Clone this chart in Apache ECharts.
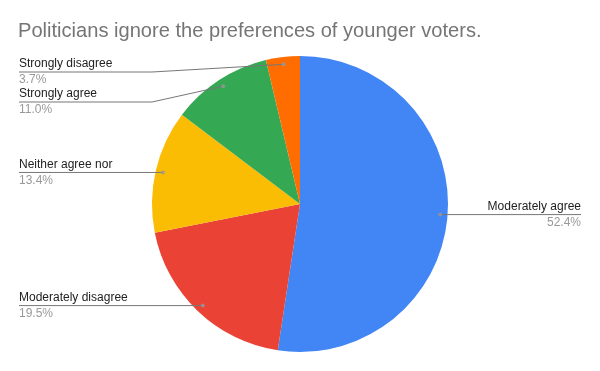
<!DOCTYPE html>
<html>
<head>
<meta charset="utf-8">
<script src="https://cdn.jsdelivr.net/npm/echarts@6/dist/echarts.min.js"></script>
<style>html,body{margin:0;padding:0;background:#fff}#c{width:600px;height:371px}</style>
</head>
<body>
<div id="c"></div>
<script>
const titleText = 'Politicians ignore the preferences of younger voters.';
const categories = ['Moderately agree', 'Moderately disagree', 'Neither agree nor', 'Strongly agree', 'Strongly disagree'];
const values = [52.4, 19.5, 13.4, 11.0, 3.7];
const colors = ['#4285F4', '#EA4335', '#FBBC04', '#34A853', '#FF6D01'];
// labels stacked against the top edge (laid out in their own group)
const topLabelGroup = ['Strongly agree', 'Strongly disagree'];

const FONT = 'Arial, "Liberation Sans", sans-serif';
const CX = 300, CY = 204;
const R = 148;
const DOT_R = 0.95;
const LABEL_TOP = 57;

const total = values.reduce((a, b) => a + b, 0);
const pieData = categories.map((c, i) => ({ name: c, value: values[i], itemStyle: { color: colors[i] } }));
const overlayData = inTop => categories.map((c, i) => ({
  name: c, value: values[i],
  label: { show: topLabelGroup.includes(c) === inTop },
  labelLine: { show: topLabelGroup.includes(c) === inTop }
}));
let cum = 0;
const dotData = values.map(v => { const mid = (cum + v / 2) / total * 100; cum += v; return [DOT_R, mid]; });

const labelCfg = {
  show: true, position: 'outer', alignTo: 'edge', edgeDistance: 19, bleedMargin: 0,
  distanceToLabelLine: 0,
  formatter: p => '{n|' + p.name + '}\n{p|' + p.value.toFixed(1) + '%}',
  rich: {
    n: { fontFamily: FONT, fontSize: 12, color: '#222', lineHeight: 16 },
    p: { fontFamily: FONT, fontSize: 12, color: '#999', lineHeight: 16 }
  }
};
const labelLineCfg = { show: true, length: 0.01, length2: 10, smooth: false, lineStyle: { color: '#777', width: 1 } };
function labelLayout(params) {
  const pts = params.labelLinePoints;
  if (!pts) return {};
  const r = params.labelRect;
  const start = pts[0];
  const left = start[0] < CX;
  const y = pts[pts.length - 1][1];
  const endX = left ? r.x : r.x + r.width;
  const bendX = left ? Math.min(start[0], CX - R) : Math.max(start[0], CX + R);
  return { labelLinePoints: [start, [bendX, y], [endX, y]] };
}
function overlaySeries(inTop) {
  const top = inTop ? LABEL_TOP : 0;
  return {
    type: 'pie', left: 0, top: top, right: 0, bottom: 0,
    center: [CX, CY - top], radius: R * DOT_R, startAngle: 90, clockwise: true,
    silent: true, z: 2,
    itemStyle: { color: 'rgba(0,0,0,0)', borderWidth: 0 },
    avoidLabelOverlap: true,
    label: labelCfg, labelLine: labelLineCfg, labelLayout: labelLayout,
    data: overlayData(inTop)
  };
}

const chart = echarts.init(document.getElementById('c'), null, { renderer: 'canvas' });
chart.setOption({
  animation: false,
  backgroundColor: '#fff',
  title: {
    text: titleText, left: 18, top: 21, padding: 0,
    textStyle: { fontFamily: FONT, fontSize: 20.1, fontWeight: 'normal', color: '#757575' }
  },
  polar: { center: [CX, CY], radius: R },
  angleAxis: { type: 'value', min: 0, max: 100, startAngle: 90, clockwise: true, show: false },
  radiusAxis: { type: 'value', min: 0, max: 1, show: false },
  series: [
    {
      type: 'pie', center: [CX, CY], radius: R, startAngle: 90, clockwise: true,
      label: { show: false }, labelLine: { show: false }, silent: true,
      itemStyle: { borderWidth: 0 },
      data: pieData, z: 1
    },
    overlaySeries(true),
    overlaySeries(false),
    {
      type: 'scatter', coordinateSystem: 'polar', symbol: 'circle', symbolSize: 4,
      itemStyle: { color: '#999' }, silent: true, z: 3,
      data: dotData
    }
  ]
});
</script>
</body>
</html>
